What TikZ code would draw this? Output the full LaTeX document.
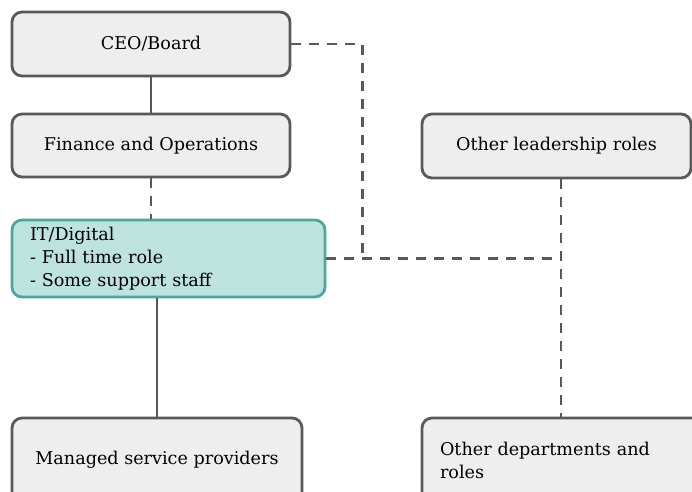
\documentclass[tikz,border=0pt]{standalone}
\usepackage{fontspec}
\setmainfont{DejaVu Serif}
\usetikzlibrary{positioning,calc}

\definecolor{linegray}{HTML}{595959}
\definecolor{boxgray}{HTML}{EEEEEE}
\definecolor{tealfill}{HTML}{BEE3DE}
\definecolor{tealline}{HTML}{4CA69D}

\begin{document}
\begin{tikzpicture}[
    x=1pt, y=-1pt,
    role/.style={draw=linegray, fill=boxgray, line width=2.8pt, rounded corners=10pt,
        inner sep=0pt, font=\fontsize{17.6}{23}\selectfont},
    itrole/.style={role, draw=tealline, fill=tealfill},
    solidlink/.style={draw=linegray, line width=2.8pt},
    dashlink/.style={draw=linegray, line width=2.8pt, dash pattern=on 10pt off 8pt}
]
\useasboundingbox (0,0) rectangle (692,491);
\clip (0,0) rectangle (692,491);

% Left column
\node[role, minimum width=278pt, minimum height=64pt] (CEO) at (151,44) {CEO/Board};
\node[role, minimum width=278pt, minimum height=63pt] (Finance) at (151,145.5) {Finance and Operations};
\node[itrole, minimum width=313pt, minimum height=77pt, text width=277pt, align=left] (IT) at (168.5,258.5)
    {IT/Digital\\- Full time role\\- Some support staff};
\node[role, minimum width=290pt, minimum height=84pt] (Managed) at (157,460) {Managed service providers};

% Right column
\node[role, minimum width=269pt, minimum height=64pt] (Leader) at (556.5,146) {Other leadership roles};
\node[role, minimum width=280pt, minimum height=84pt, text width=244pt, align=left] (Depts) at (562,460)
    {Other departments and\\roles};

\coordinate (spine) at (561,258.5);

% Reporting lines
\draw[solidlink] (CEO.south) -- (Finance.north);
\draw[dashlink] (Finance.south) -- (Finance.south |- IT.north);
\draw[solidlink] (Managed.north |- IT.south) -- (Managed.north);

% Dotted-line links
\draw[dashlink] (CEO.east) -| ($(IT.east)+(36,0)$);
\draw[dashlink] (IT.east) -- (spine);
\draw[dashlink] (Leader.south -| spine) -- (Depts.north -| spine);

\end{tikzpicture}
\end{document}
